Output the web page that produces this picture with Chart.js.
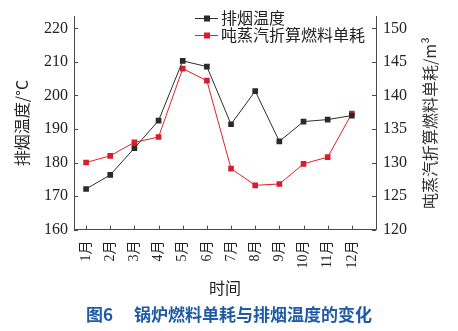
<!DOCTYPE html>
<html>
<head>
<meta charset="utf-8">
<script src="https://cdn.jsdelivr.net/npm/chart.js@4.4.1/dist/chart.umd.min.js"></script>
<style>
  html, body { margin: 0; padding: 0; background: #fff; }
  #wrap { width: 458px; height: 331px; position: relative; }
</style>
</head>
<body>
<div id="wrap"><canvas id="chart" width="458" height="331"></canvas></div>
<script>
// --- data ---
const months = ['1月', '2月', '3月', '4月', '5月', '6月', '7月', '8月', '9月', '10月', '11月', '12月'];
const exhaustTemp = [172.1, 176.3, 184.3, 192.5, 210.3, 208.6, 191.4, 201.3, 186.3, 192.2, 192.8, 194.0];
const fuelPerTon = [130.0, 131.0, 133.0, 133.8, 144.0, 142.2, 129.1, 126.6, 126.8, 129.8, 130.8, 137.3];
const tempTicks = [160, 170, 180, 190, 200, 210, 220];
const fuelTicks = [120, 125, 130, 135, 140, 145, 150];

const serif = '"Liberation Serif", "Noto Sans CJK SC", serif';
const cjk = '"Noto Sans CJK SC", sans-serif';
const axisColor = '#4a4a4a';
const blackSeries = '#2e2e2e';
const redSeries = '#e2202c';

// --- inward tick marks, right axis title, inline legend ---
const decorations = {
    id: 'decorations',
    afterDatasetsDraw(chart) {
        const ctx = chart.ctx;
        const { x, y, y1 } = chart.scales;
        ctx.save();
        ctx.strokeStyle = axisColor;
        ctx.lineWidth = 1;
        ctx.beginPath();
        x.ticks.forEach(t => {
            const px = Math.round(x.getPixelForValue(t.value)) + 0.5;
            ctx.moveTo(px, x.top);
            ctx.lineTo(px, x.top - 4);
        });
        y.ticks.forEach(t => {
            const py = Math.round(y.getPixelForValue(t.value)) + 0.5;
            ctx.moveTo(y.right, py);
            ctx.lineTo(y.right + 4, py);
        });
        y1.ticks.forEach(t => {
            const py = Math.round(y1.getPixelForValue(t.value)) + 0.5;
            ctx.moveTo(y1.left, py);
            ctx.lineTo(y1.left - 4, py);
        });
        ctx.stroke();

        // right axis title, reading bottom to top
        ctx.fillStyle = '#333';
        ctx.font = '16px ' + cjk;
        ctx.textAlign = 'center';
        ctx.textBaseline = 'middle';
        ctx.translate(430, (chart.chartArea.top + chart.chartArea.bottom) / 2);
        ctx.rotate(-Math.PI / 2);
        ctx.fillText('吨蒸汽折算燃料单耗/m³', 0, 0);
        ctx.restore();

        // legend
        ctx.save();
        chart.data.datasets.forEach((ds, i) => {
            const ly = 18 + i * 17;
            ctx.strokeStyle = ds.borderColor;
            ctx.lineWidth = 1;
            ctx.beginPath();
            ctx.moveTo(195, ly + 0.5);
            ctx.lineTo(218, ly + 0.5);
            ctx.stroke();
            ctx.fillStyle = ds.pointBackgroundColor;
            ctx.fillRect(204, ly - 2.5, 6, 6);
            ctx.fillStyle = '#222';
            ctx.font = '16px ' + cjk;
            ctx.textAlign = 'left';
            ctx.textBaseline = 'middle';
            ctx.fillText(ds.label, 221, ly);
        });
        ctx.restore();
    }
};

const keepTicks = list => scale => {
    scale.ticks = list.map(v => ({ value: v }));
};

new Chart(document.getElementById('chart'), {
    type: 'line',
    data: {
        datasets: [
            {
                label: '排烟温度',
                data: exhaustTemp.map((v, i) => ({ x: i + 1, y: v })),
                yAxisID: 'y',
                borderColor: blackSeries,
                borderWidth: 1,
                pointStyle: 'rect',
                pointRadius: 4,
                pointBorderWidth: 0,
                pointBackgroundColor: '#2a2a2a',
                tension: 0
            },
            {
                label: '吨蒸汽折算燃料单耗',
                data: fuelPerTon.map((v, i) => ({ x: i + 1, y: v })),
                yAxisID: 'y1',
                borderColor: redSeries,
                borderWidth: 1,
                pointStyle: 'rect',
                pointRadius: 4,
                pointBorderWidth: 0,
                pointBackgroundColor: '#d91e2b',
                tension: 0
            }
        ]
    },
    options: {
        responsive: false,
        animation: false,
        devicePixelRatio: 1,
        layout: { padding: { top: 5, left: 0, right: 0, bottom: 0 } },
        plugins: {
            legend: { display: false },
            tooltip: { enabled: false },
            title: {
                display: true,
                position: 'bottom',
                text: '图6\u3000 锅炉燃料单耗与排烟温度的变化',
                color: '#1f5aa6',
                font: { family: cjk, size: 17, weight: 'bold', lineHeight: 1.2 },
                padding: { top: 0, bottom: 6 }
            }
        },
        scales: {
            x: {
                type: 'linear',
                min: 0.5,
                max: 13,
                afterBuildTicks: keepTicks(months.map((m, i) => i + 1)),
                afterFit: s => { s.height = 75; },
                grid: { display: true, drawOnChartArea: false, drawTicks: false },
                border: { display: true, color: axisColor, width: 1 },
                ticks: {
                    autoSkip: false,
                    minRotation: 90,
                    maxRotation: 90,
                    padding: 11,
                    color: '#222',
                    font: { family: serif, size: 14 },
                    callback: v => months[v - 1] || ''
                },
                title: {
                    display: true,
                    text: '时间',
                    color: '#222',
                    font: { family: cjk, size: 16, lineHeight: 1.2 },
                    padding: { top: 4, bottom: 7 }
                }
            },
            y: {
                position: 'left',
                min: 160,
                max: 223.5,
                afterBuildTicks: keepTicks(tempTicks),
                afterFit: s => { s.width = 74; },
                grid: { display: true, drawOnChartArea: false, drawTicks: false },
                border: { display: true, color: axisColor, width: 1 },
                ticks: {
                    padding: 6,
                    color: '#222',
                    font: { family: serif, size: 16 }
                },
                title: {
                    display: true,
                    text: '排烟温度/°C',
                    color: '#222',
                    font: { family: cjk, size: 16, lineHeight: 1.2 },
                    padding: { top: 12, bottom: 0 }
                }
            },
            y1: {
                position: 'right',
                min: 120,
                max: 151.75,
                afterBuildTicks: keepTicks(fuelTicks),
                afterFit: s => { s.width = 82; },
                grid: { display: true, drawOnChartArea: false, drawTicks: false },
                border: { display: true, color: axisColor, width: 1 },
                ticks: {
                    padding: 7,
                    color: '#222',
                    font: { family: serif, size: 16 }
                }
            }
        }
    },
    plugins: [decorations]
});
</script>
</body>
</html>
